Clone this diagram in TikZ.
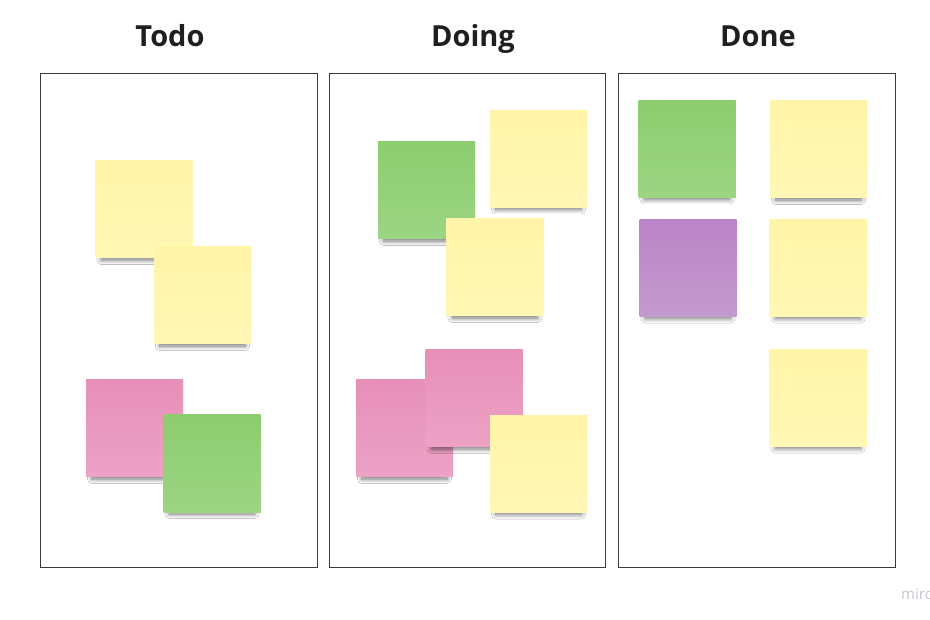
\documentclass[tikz,border=0pt]{standalone}
\usepackage{fontspec}
\setmainfont{Open Sans}
\usetikzlibrary{shadows.blur}
\definecolor{ytop}{HTML}{FFF4A8}
\definecolor{ybot}{HTML}{FFF7B4}
\definecolor{gtop}{HTML}{8DCC6F}
\definecolor{gbot}{HTML}{9CD583}
\definecolor{ptop}{HTML}{E78FB7}
\definecolor{pbot}{HTML}{ECA2C5}
\definecolor{vtop}{HTML}{BA84C6}
\definecolor{vbot}{HTML}{C59ACE}
\definecolor{frame}{HTML}{3A3A3A}
\definecolor{wm}{HTML}{C5C7D2}
\tikzset{
  note/.style={minimum width=97pt, minimum height=97pt, inner sep=0pt,
    blur shadow={shadow xshift=0pt, shadow yshift=-9pt, shadow blur radius=5pt,
      shadow blur steps=12, shadow opacity=55, shadow scale=0.88}},
  ynote/.style={note, top color=ytop, bottom color=ybot},
  gnote/.style={note, top color=gtop, bottom color=gbot},
  pnote/.style={note, top color=ptop, bottom color=pbot},
  vnote/.style={note, top color=vtop, bottom color=vbot},
  column/.style={draw=frame, line width=0.9pt, minimum height=494pt, inner sep=0pt},
  head/.style={font=\bfseries\fontsize{29}{32}\selectfont, text=black!88, anchor=base}
}
\begin{document}
\begin{tikzpicture}[x=1pt,y=-1pt]
\useasboundingbox[fill=white] (0,0) rectangle (930,620);
% columns
\node[column, minimum width=277pt] (todo) at (178.5,320) {};
\node[column, minimum width=276pt] (doing) at (467,320) {};
\node[column, minimum width=277pt] (done) at (756.5,320) {};
\node[head] (htodo) at (170,47) {Todo};
\node[head] (hdoing) at (473,47) {Doing};
\node[head] (hdone) at (758,47) {Done};
% Todo notes
\node[ynote] (t1) at (144,209.5) {};
\node[ynote] (t2) at (202.5,295.5) {};
\node[pnote] (t3) at (134.5,428.5) {};
\node[gnote] (t4) at (212,463.5) {};
% Doing notes
\node[gnote] (d1) at (426.5,190.5) {};
\node[ynote] (d2) at (538.5,159) {};
\node[ynote] (d3) at (495,267.5) {};
\node[pnote] (d4) at (404.5,428.5) {};
\node[pnote] (d5) at (474,398.5) {};
\node[ynote] (d6) at (538.5,464) {};
% Done notes
\node[gnote] (n1) at (687,149) {};
\node[ynote] (n2) at (818.5,149.5) {};
\node[vnote] (n3) at (688,268) {};
\node[ynote] (n4) at (818,268) {};
\node[ynote] (n5) at (818,398) {};
% watermark (cut off at the right edge, as in the reference)
\node[anchor=base west, text=wm, font=\fontsize{15}{17}\selectfont, inner sep=0pt] (wmark) at (901,599) {miro};
\end{tikzpicture}
\end{document}
